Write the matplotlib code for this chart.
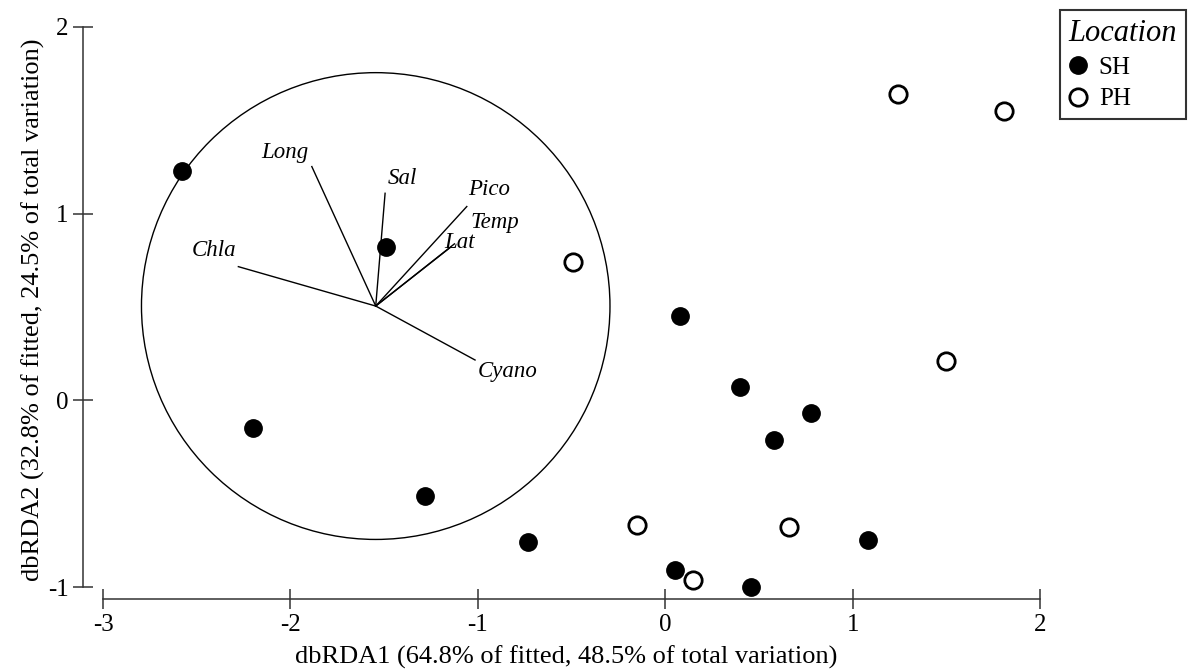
import matplotlib
matplotlib.use("Agg")
import matplotlib.pyplot as plt
from matplotlib.patches import Circle
from matplotlib.lines import Line2D

plt.rcParams['font.family'] = ['Liberation Serif', 'DejaVu Serif']
plt.rcParams['axes.unicode_minus'] = False

# site scores, SH (filled) and PH (open)
sh_x = [-2.58, -1.49, -2.20, -1.28, -0.73, 0.08, 0.40, 0.78, 0.58, 1.08, 0.05, 0.46]
sh_y = [1.23, 0.82, -0.15, -0.51, -0.76, 0.45, 0.07, -0.07, -0.21, -0.75, -0.91, -1.00]
ph_x = [1.24, 1.81, -0.49, 1.50, -0.15, 0.66, 0.15]
ph_y = [1.64, 1.55, 0.74, 0.21, -0.67, -0.68, -0.96]

# vector overlay (origin, endpoints, label positions)
origin = (-1.545, 0.505)
circle_r = 1.25
vec_names = ['Long', 'Sal', 'Pico', 'Temp', 'Lat', 'Chla', 'Cyano']
vec_x = [-1.886, -1.495, -1.059, -1.125, -1.143, -2.278, -1.015]
vec_y = [1.252, 1.109, 1.038, 0.838, 0.822, 0.716, 0.216]
lab_x = [-2.03, -1.40, -0.94, -0.91, -1.10, -2.41, -0.84]
lab_y = [1.33, 1.19, 1.127, 0.95, 0.843, 0.80, 0.152]

xlabel = 'dbRDA1 (64.8% of fitted, 48.5% of total variation)'
ylabel = 'dbRDA2 (32.8% of fitted, 24.5% of total variation)'

fig = plt.figure(figsize=(11.9, 6.72), dpi=100)
ax = fig.add_axes([83/1190, 1 - 599/672, 967/1190, 579/672])

ax.add_patch(Circle(origin, circle_r, fill=False, lw=1.0, ec='black'))
for nm, vx, vy, lx, ly in zip(vec_names, vec_x, vec_y, lab_x, lab_y):
    ax.plot([origin[0], vx], [origin[1], vy], color='black', lw=1.0)
    ax.text(lx, ly, nm, style='italic', fontsize=16.5, ha='center', va='center')

ax.plot(sh_x, sh_y, 'o', ms=12.5, mfc='black', mec='black', ls='none', clip_on=False)
ax.plot(ph_x, ph_y, 'o', ms=12.5, mfc='white', mec='black', mew=2, ls='none', clip_on=False)

ax.set_xlim(-3.107, 2.053)
ax.set_ylim(-1.064, 2.037)
ax.set_xticks([-3, -2, -1, 0, 1, 2])
ax.set_yticks([-1, 0, 1, 2])
for s in ['top', 'right']:
    ax.spines[s].set_visible(False)
ax.spines['left'].set_bounds(-1, 2)
ax.spines['bottom'].set_bounds(-3, 2)
for s in ['left', 'bottom']:
    ax.spines[s].set_linewidth(1.1)
    ax.spines[s].set_color('#333333')
ax.tick_params(direction='inout', length=15, width=1.1, color='#333333', labelsize=18, pad=3)

ax.set_xlabel(xlabel, fontsize=19, labelpad=7)
ax.set_ylabel(ylabel, fontsize=19, labelpad=2)

handles = [Line2D([], [], marker='o', ls='none', ms=12.5, mfc='black', mec='black'),
           Line2D([], [], marker='o', ls='none', ms=12.5, mfc='white', mec='black', mew=2)]
leg = ax.legend(handles, ['SH', 'PH'], loc='upper right',
                bbox_to_anchor=(1186/1190, 1 - 10/672), bbox_transform=fig.transFigure,
                title='Location', title_fontproperties={'size': 22, 'style': 'italic'},
                alignment='left', fontsize=18, fancybox=False, framealpha=1,
                edgecolor='#333333', handlelength=0.7, handletextpad=0.5,
                borderpad=0.35, labelspacing=0.35, borderaxespad=0)
leg.get_frame().set_linewidth(1.5)

fig.savefig('out.png', dpi=100)
